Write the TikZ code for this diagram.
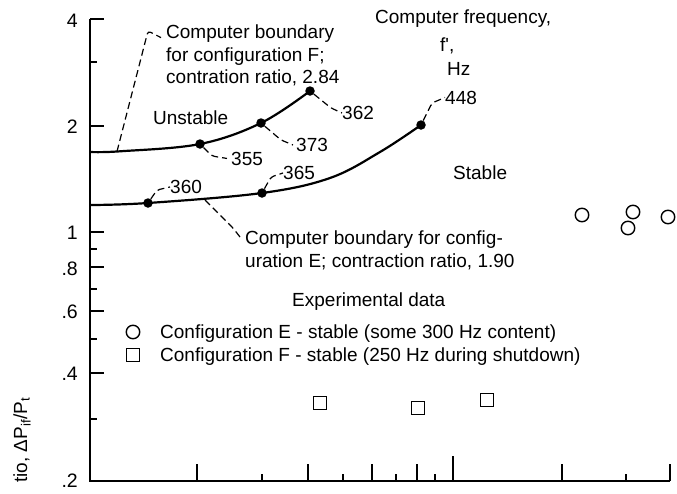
\documentclass[tikz,border=0pt]{standalone}
\usepackage{fontspec}
\setmainfont{Liberation Sans}
\begin{document}
\begin{tikzpicture}[x=1pt,y=-1pt,
  lbl/.style={font=\fontsize{19}{22}\selectfont, inner sep=0pt, anchor=base west},
  ticklbl/.style={font=\fontsize{19.5}{22}\selectfont, inner sep=0pt, anchor=base east},
  dot/.style={circle,fill=black,inner sep=0pt,minimum size=9.5pt},
  lead/.style={dash pattern=on 7pt off 4pt, line width=1.2pt},
  curve/.style={line width=2.2pt},
  axis/.style={line width=2pt},
  majtick/.style={line width=1.8pt},
  mintick/.style={line width=1.4pt},
  opencirc/.style={circle,draw=black,line width=1.4pt,minimum size=13.5pt,inner sep=0pt},
  opensq/.style={rectangle,draw=black,line width=1.4pt,minimum size=12.5pt,inner sep=0pt},
]
\useasboundingbox (0,0) rectangle (677,493);

% axes
\coordinate (ytop) at (90,19);
\coordinate (orig) at (90,481);
\coordinate (xend) at (670,481);
\draw[axis] (ytop) -- (orig) -- (xend);

% y ticks
\foreach \y in {19,126,232,267,311,373} \draw[majtick] (90,\y) -- (104,\y);
\foreach \y in {62,249,289,339,419} \draw[mintick] (90,\y) -- (97,\y);
% x ticks
\foreach \x in {197,308,372,417,562,670} \draw[majtick] (\x,481) -- (\x,464);
\foreach \x in {262,343,396,435,626} \draw[mintick] (\x,481) -- (\x,474);
\draw[majtick] (453,481) -- (453,456);

% y tick labels
\node[ticklbl] (t4) at (78,27) {4};
\node[ticklbl] (t2) at (78,133) {2};
\node[ticklbl] (t1) at (78,239) {1};
\node[ticklbl] (t08) at (78,275) {.8};
\node[ticklbl] (t06) at (78,318) {.6};
\node[ticklbl] (t04) at (78,380) {.4};
\node[ticklbl] (t02) at (78,487) {.2};

% y axis label (cut)
\node[font=\fontsize{19}{22}\selectfont, inner sep=0pt, rotate=90] (ylab) at (22,440) {tio, ΔP\textsubscript{if}/P\textsubscript{t}};

% upper curve (configuration F)
\coordinate (u0) at (90,152);
\coordinate (u1) at (120,151.3);
\node[dot] (p355) at (200,144) {};
\node[dot] (p373) at (261,123) {};
\node[dot] (p362) at (310,91) {};
\draw[curve] plot[smooth, tension=0.6] coordinates {(u0) (u1) (p355.center) (p373.center) (p362.center)};

% lower curve (configuration E)
\coordinate (e0) at (90,205);
\node[dot] (p360) at (148,203) {};
\node[dot] (p365) at (262,193) {};
\coordinate (e1) at (330,178);
\coordinate (e2) at (380,152);
\node[dot] (p448) at (421,125) {};
\draw[curve] plot[smooth, tension=0.6] coordinates {(e0) (p360.center) (p365.center) (e1) (e2) (p448.center)};

% point labels
\node[lbl] (l355) at (231,165) {355};
\node[lbl] (l373) at (296,151.5) {373};
\node[lbl] (l362) at (342,119.5) {362};
\node[lbl] (l448) at (445,104) {448};
\node[lbl] (l360) at (170,193.5) {360};
\node[lbl] (l365) at (283,179.5) {365};

\draw[lead, rounded corners=3pt] (p355) -- (212,156) -- ([xshift=-4pt]l355.west);
\draw[lead, rounded corners=3pt] (p373) -- (281,140) -- ([xshift=-3pt]l373.west);
\draw[lead, rounded corners=3pt] (p362) -- (331,108) -- (l362.west);
\draw[lead, rounded corners=3pt] (p448) -- (432,103) -- (l448.west);
\draw[lead, rounded corners=3pt] (p360) -- (157,190) -- (l360.west);
\draw[lead, rounded corners=3pt] (p365) -- (271,177) -- (l365.west);

% boundary annotations
\node[lbl] (fb1) at (166,38.5) {Computer boundary};
\node[lbl] (fb2) at (166,61.5) {for configuration F;};
\node[lbl] (fb3) at (166,83.5) {contration ratio, 2.84};
\coordinate (fbstart) at (117,151.5);
\draw[lead, rounded corners=3pt] (fbstart) -- (148,31) -- ([xshift=-5pt,yshift=-4pt]fb1.west);

\node[lbl] (eb1) at (245,244.5) {Computer boundary for config-};
\node[lbl] (eb2) at (245,267.5) {uration E; contraction ratio, 1.90};
\coordinate (ebstart) at (205,200);
\draw[lead, rounded corners=3pt] (ebstart) -- (233,228) -- ([xshift=-3pt]eb1.west);

% region labels
\node[lbl] (unst) at (153,124.5) {Unstable};
\node[lbl] (stab) at (453,179.5) {Stable};
\node[lbl] (cf1) at (375,23.5) {Computer frequency,};
\node[lbl] (cf2) at (440,51.5) {f\textquotesingle,};
\node[lbl] (cf3) at (447,75.5) {Hz};

% legend
\node[lbl] (exp) at (292,306.5) {Experimental data};
\node[opencirc] (legc) at (133,332) {};
\node[lbl] (legct) at (160,338.5) {Configuration E - stable (some 300 Hz content)};
\node[opensq] (legs) at (133,355) {};
\node[lbl] (legst) at (160,361.5) {Configuration F - stable (250 Hz during shutdown)};

% data
\node[opencirc] (c1) at (582,215) {};
\node[opencirc] (c2) at (633,212) {};
\node[opencirc] (c3) at (628,228) {};
\node[opencirc] (c4) at (668,217) {};
\node[opensq] (s1) at (320,403) {};
\node[opensq] (s2) at (418,408) {};
\node[opensq] (s3) at (487,400) {};
\end{tikzpicture}
\end{document}
